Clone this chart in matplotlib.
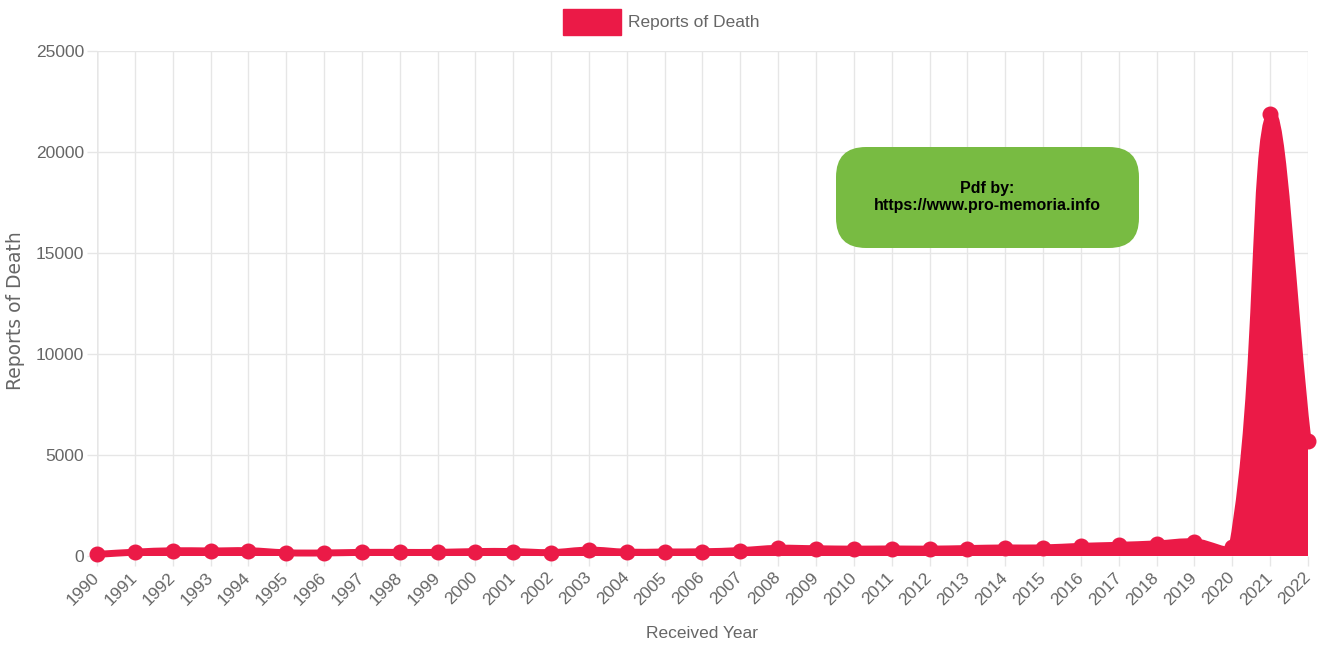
import numpy as np
import matplotlib
matplotlib.use('Agg')
import matplotlib.pyplot as plt
from matplotlib.path import Path
from matplotlib.patches import PathPatch, FancyBboxPatch, Rectangle
from matplotlib.transforms import IdentityTransform

# ---------------- data ----------------
years = list(range(1990, 2023))
year_labels = [str(y) for y in years]
deaths = [80, 190, 260, 250, 260, 160, 150, 180, 180, 180,
          220, 220, 170, 290, 190, 200, 210, 270, 380, 360,
          340, 350, 340, 370, 400, 400, 480, 530, 600, 700,
          450, 21900, 5700]
y_ticks = [0, 5000, 10000, 15000, 20000, 25000]
series_name = "Reports of Death"
x_title = "Received Year"
y_title = "Reports of Death"
watermark = "Pdf by:\nhttps://www.pro-memoria.info"

RED = '#EB1A47'
GRID = '#e6e6e6'
ZERO = '#c0c0c0'
TXT = '#666666'
FONT = 'Liberation Sans'

W, H = 1322, 648
fig = plt.figure(figsize=(W / 100, H / 100), dpi=100)
L, R, T, B = 97, 1308, 51, 556
ax = fig.add_axes([L / W, 1 - B / H, (R - L) / W, (B - T) / H])

x = np.arange(len(years))
ax.set_xlim(0, len(years) - 1)
ax.set_ylim(y_ticks[0], y_ticks[-1])

# ---------------- grid / ticks ----------------
ax.set_xticks(x)
ax.set_xticklabels(year_labels, rotation=45, ha='right', va='center',
                   rotation_mode='anchor', fontsize=12.5, family=FONT, color=TXT)
ax.set_yticks(y_ticks)
ax.set_yticklabels([str(v) for v in y_ticks], fontsize=12.5, family=FONT, color=TXT)
ax.tick_params(axis='x', length=7.2, width=1, color=GRID, pad=6.5)
ax.tick_params(axis='y', length=7.2, width=1, color=GRID, pad=2.2)
ax.grid(True, color=GRID, lw=1, zorder=0)
ax.set_axisbelow(True)
for s in ax.spines.values():
    s.set_visible(False)
ax.axvline(0, color=ZERO, lw=1, zorder=0.5)
ax.axhline(0, color=ZERO, lw=1, zorder=0.5)
ax.xaxis.get_major_ticks()[0].tick1line.set_color(ZERO)
ax.yaxis.get_major_ticks()[0].tick1line.set_color(ZERO)

# ---------------- smooth curve (Chart.js style bezier, tension 0.4) ----------------
trans = ax.transData
pts = trans.transform(np.column_stack([x, deaths]).astype(float))
bb = ax.bbox
tension = 0.4
n = len(pts)
cp_prev = np.zeros_like(pts)
cp_next = np.zeros_like(pts)
for i in range(n):
    p0 = pts[i - 1] if i > 0 else pts[i]
    p1 = pts[i]
    p2 = pts[i + 1] if i < n - 1 else pts[i]
    d01 = np.hypot(*(p1 - p0))
    d12 = np.hypot(*(p2 - p1))
    tot = d01 + d12
    s01 = d01 / tot if tot else 0.0
    s12 = d12 / tot if tot else 0.0
    cp_prev[i] = p1 - tension * s01 * (p2 - p0)
    cp_next[i] = p1 + tension * s12 * (p2 - p0)
for arr in (cp_prev, cp_next):
    arr[:, 0] = np.clip(arr[:, 0], bb.x0, bb.x1)
    arr[:, 1] = np.clip(arr[:, 1], bb.y0, bb.y1)

verts_px = [pts[0]]
codes = [Path.MOVETO]
for i in range(n - 1):
    verts_px += [cp_next[i], cp_prev[i + 1], pts[i + 1]]
    codes += [Path.CURVE4] * 3
inv = trans.inverted()
verts = list(inv.transform(np.array(verts_px)))

fill_verts = verts + [(x[-1], 0), (x[0], 0), verts[0]]
fill_codes = codes + [Path.LINETO, Path.LINETO, Path.CLOSEPOLY]
ax.add_patch(PathPatch(Path(fill_verts, fill_codes), facecolor=RED,
                       edgecolor='none', zorder=2))
ax.add_patch(PathPatch(Path(verts, codes), facecolor='none', edgecolor=RED,
                       lw=5, capstyle='round', joinstyle='round', zorder=3,
                       clip_on=False))
ax.plot(x, deaths, 'o', ms=10.5, color=RED, clip_on=False, zorder=4)

# ---------------- titles ----------------
fig.text((L + R) / 2 / W, 1 - 633 / H, x_title, ha='center', va='center',
         fontsize=12.5, family=FONT, color=TXT)
fig.text(16 / W, 1 - 311 / H, y_title, ha='center', va='center', rotation=90,
         fontsize=13.5, family='DejaVu Sans', color=TXT)

# ---------------- legend ----------------
fig.patches.append(Rectangle((563 / W, 1 - 35 / H), 58 / W, 26 / H,
                             transform=fig.transFigure, facecolor=RED,
                             edgecolor=RED, lw=1))
fig.text(628 / W, 1 - 22 / H, series_name, ha='left', va='center',
         fontsize=12.5, family=FONT, color=TXT)

# ---------------- watermark box ----------------
bx0, by0, bx1, by1 = 836, 147, 1139, 248
fig.patches.append(FancyBboxPatch((bx0, H - by1), bx1 - bx0, by1 - by0,
                                  boxstyle='round,pad=0,rounding_size=30',
                                  transform=IdentityTransform(),
                                  facecolor='#78BB42', edgecolor='none',
                                  zorder=10))
fig.text((bx0 + bx1) / 2 / W, 1 - 197 / H, watermark, ha='center', va='center',
         fontsize=11.5, family=FONT, weight='bold', color='black',
         linespacing=1.15, zorder=11)

fig.savefig('out.png', dpi=100)
